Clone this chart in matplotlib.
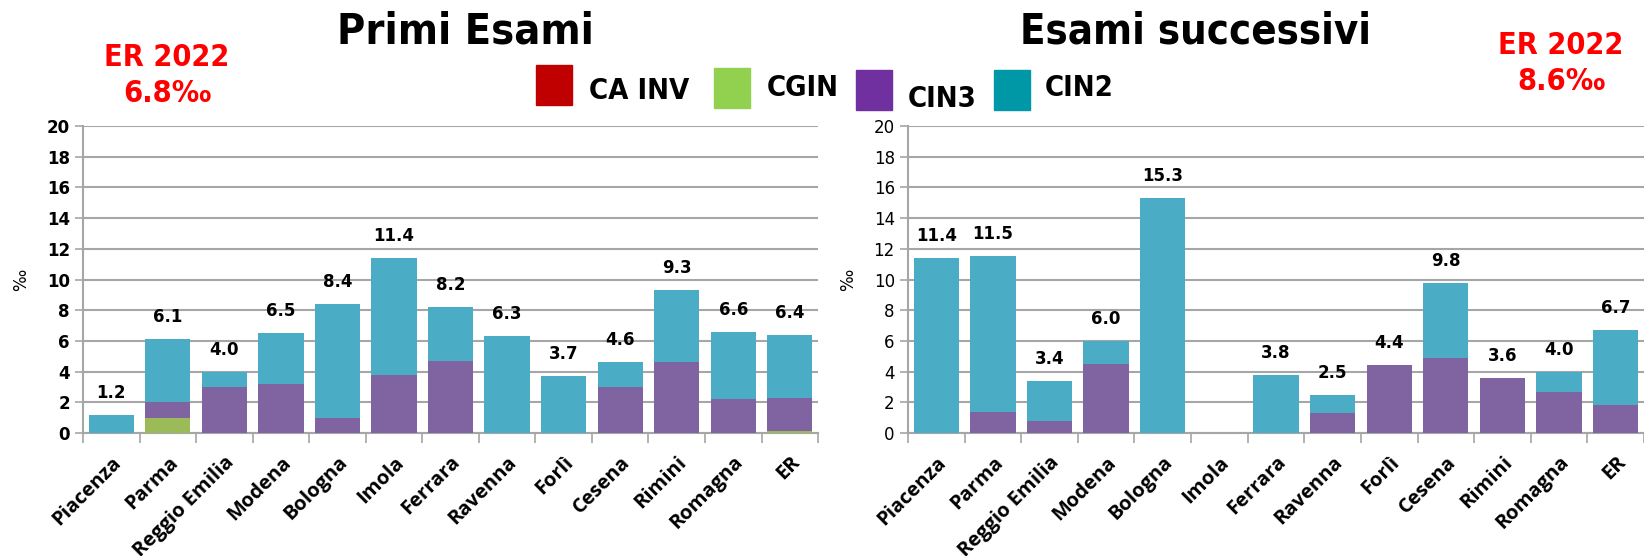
import matplotlib
matplotlib.use("Agg")
import matplotlib.pyplot as plt
import numpy as np
from matplotlib.patches import Rectangle
from matplotlib import font_manager

# Categories shared by both panels
districts = ["Piacenza", "Parma", "Reggio Emilia", "Modena", "Bologna", "Imola",
             "Ferrara", "Ravenna", "Forlì", "Cesena", "Rimini", "Romagna", "ER"]

# Primi Esami (per mille)
first_cainv = [0, 0, 0, 0, 0, 0, 0, 0, 0, 0, 0, 0, 0]
first_cgin = [0, 1.0, 0, 0, 0, 0, 0, 0, 0, 0, 0, 0, 0.1]
first_cin3 = [0, 1.0, 3.0, 3.2, 1.0, 3.8, 4.7, 0, 0, 3.0, 4.6, 2.2, 2.2]
first_total = [1.2, 6.1, 4.0, 6.5, 8.4, 11.4, 8.2, 6.3, 3.7, 4.6, 9.3, 6.6, 6.4]

# Esami successivi (per mille); Imola has no data
next_cainv = [0, 0, 0, 0, 0, 0, 0, 0, 0, 0, 0, 0, 0]
next_cgin = [0, 0, 0, 0, 0, 0, 0, 0, 0, 0, 0, 0, 0]
next_cin3 = [0, 1.4, 0.8, 4.5, 0, 0, 0, 1.3, 4.4, 4.9, 3.6, 2.7, 1.8]
next_total = [11.4, 11.5, 3.4, 6.0, 15.3, None, 3.8, 2.5, 4.4, 9.8, 3.6, 4.0, 6.7]

er_first = "6.8‰"
er_next = "8.6‰"

bar_colors = {"CA INV": "#C0504D", "CGIN": "#9BBB59", "CIN3": "#8064A2", "CIN2": "#4BACC6"}
legend_colors = {"CA INV": "#C00000", "CGIN": "#92D050", "CIN3": "#7030A0", "CIN2": "#0097A7"}
grid_color = "#A6A6A6"

# narrow bold face for titles and legend, if a condensed file is installed
cond = [f for f in font_manager.fontManager.ttflist
        if f.name == "DejaVu Sans" and f.stretch == "condensed" and f.weight == 700]
if cond:
    narrow_fp = dict(fontproperties=font_manager.FontProperties(fname=cond[0].fname))
else:
    narrow_fp = dict(family="DejaVu Sans", fontweight="bold")


def draw_panel(ax, cainv, cgin, cin3, total, bold_ticks):
    x = np.arange(len(districts))
    cainv = np.array(cainv, dtype=float)
    cgin = np.array(cgin, dtype=float)
    cin3 = np.array(cin3, dtype=float)
    tot = np.array([np.nan if t is None else t for t in total], dtype=float)
    cin2 = np.nan_to_num(tot) - cainv - cgin - cin3

    bottom = np.zeros(len(x))
    for vals, key in [(cainv, "CA INV"), (cgin, "CGIN"), (cin3, "CIN3"), (cin2, "CIN2")]:
        ax.bar(x, vals, bottom=bottom, width=0.8, color=bar_colors[key], zorder=3)
        bottom += vals

    for xi, t in zip(x, total):
        if t is None:
            continue
        ax.annotate(f"{t:.1f}", (xi, t), xytext=(0, 22), textcoords="offset pixels",
                    ha="center", va="center", fontsize=12, fontweight="bold")

    ax.set_xlim(-0.5, len(x) - 0.5)
    ax.set_ylim(0, 20)
    ax.set_yticks(np.arange(0, 21, 2))
    ax.yaxis.grid(True, color=grid_color, linewidth=1.5, zorder=0)
    ax.set_axisbelow(True)
    for side in ["top", "right"]:
        ax.spines[side].set_visible(False)
    for side in ["left", "bottom"]:
        ax.spines[side].set_color(grid_color)
        ax.spines[side].set_linewidth(1.5)

    ax.set_xticks(x)
    ax.set_xticks(np.arange(-0.5, len(x), 1.0), minor=True)
    ax.tick_params(axis="x", which="major", length=0, pad=14)
    ax.tick_params(axis="x", which="minor", length=7, color=grid_color, width=1.2)
    ax.tick_params(axis="y", length=6, color=grid_color, width=1.2, labelsize=12)
    ax.set_xticklabels(districts, rotation=45, ha="right", rotation_mode="anchor",
                       fontsize=14.5, fontweight="bold", family=["Open Sans", "DejaVu Sans"])
    if bold_ticks:
        for lab in ax.get_yticklabels():
            lab.set_fontweight("bold")
    ax.set_ylabel("‰", fontsize=12, labelpad=12)


fig = plt.figure(figsize=(16.44, 5.56), dpi=100)
ax1 = fig.add_axes([0.0505, 0.2212, 0.4471, 0.5522])
ax2 = fig.add_axes([0.5523, 0.2212, 0.4477, 0.5522])

draw_panel(ax1, first_cainv, first_cgin, first_cin3, first_total, True)
draw_panel(ax2, next_cainv, next_cgin, next_cin3, next_total, False)

W, H = 1644, 556


def fx(px):
    return px / W


def fy(py):
    return 1 - py / H


# Titles
fig.text(fx(465), fy(31), "Primi Esami", ha="center", va="center", fontsize=31, **narrow_fp)
fig.text(fx(1195), fy(31), "Esami successivi", ha="center", va="center", fontsize=30,
         **narrow_fp)

# Regional reference rates
for cx, cy, rate in [(167, 58, er_first), (1561, 46, er_next)]:
    fig.text(fx(cx), fy(cy), "ER 2022", ha="center", va="center", fontsize=22,
             color="#FF0000", **narrow_fp)
    fig.text(fx(cx), fy(cy + 35), rate, ha="center", va="center", fontsize=22,
             color="#FF0000", **narrow_fp)

# Legend drawn by hand to follow the original layout
legend_items = [("CA INV", 536, 65, 589, 91), ("CGIN", 714, 68, 767, 88),
                ("CIN3", 856, 70, 908, 99), ("CIN2", 994, 70, 1045, 88)]
for name, px, py, tx, ty in legend_items:
    fig.patches.append(Rectangle((fx(px), fy(py + 40)), 36 / W, 40 / H,
                                 transform=fig.transFigure, color=legend_colors[name]))
    fig.text(fx(tx), fy(ty), name, ha="left", va="center", fontsize=21, **narrow_fp)

fig.savefig("out.png", dpi=100)
